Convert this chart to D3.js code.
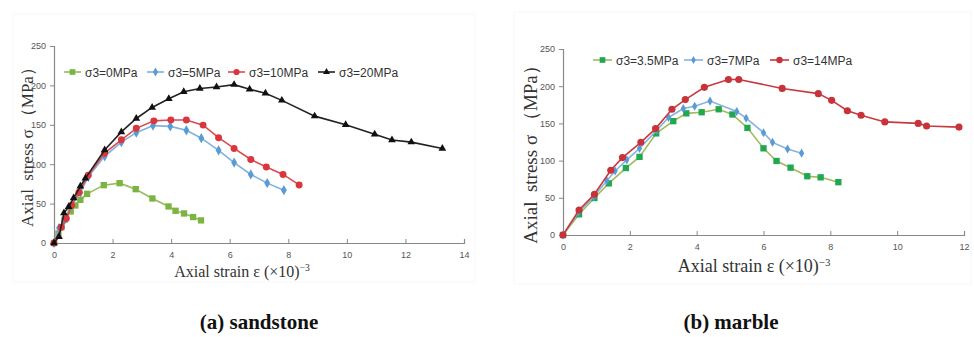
<!DOCTYPE html>
<html>
<head>
<meta charset="utf-8">
<script src="https://cdn.jsdelivr.net/npm/d3@7"></script>
<style>
  body { margin: 0; background: #fff; }
  svg { display: block; }
  .tick text { font-family: "Liberation Sans", Arial, sans-serif; fill: #555; }
  .legend text { font-family: "Liberation Sans", Arial, sans-serif; fill: #333; }
  .title { font-family: "Liberation Serif", "Times New Roman", serif; fill: #333; }
  .caption { font-family: "Liberation Serif", "Times New Roman", serif; font-weight: bold; fill: #111; }
</style>
</head>
<body>
<svg id="chart" width="974" height="337"></svg>
<script>
// sandstone, strain (x10^-3) / stress (MPa)
const sandX0 = [0, 0.15, 0.25, 0.36, 0.57, 0.73, 0.9, 1.13, 1.7, 2.24, 2.79, 3.36, 3.91, 4.15, 4.44, 4.75, 5.02];
const sandY0 = [0, 12, 20, 29.5, 40, 47.6, 54.8, 62.4, 73.4, 75.9, 68.3, 56.5, 46.4, 40.9, 37.5, 32.9, 28.7];

const sandX5 = [0, 0.17, 0.36, 0.59, 0.9, 1.17, 1.73, 2.3, 2.81, 3.38, 3.97, 4.52, 5.03, 5.62, 6.15, 6.72, 7.28, 7.85];
const sandY5 = [0, 19, 29, 47, 64, 84, 110, 128, 140, 149, 148, 143, 133, 117.6, 102, 87, 76, 67];

const sandX10 = [0, 0.25, 0.42, 0.6, 0.85, 1.17, 1.73, 2.3, 2.81, 3.41, 3.99, 4.52, 5.09, 5.62, 6.15, 6.72, 7.25, 7.82, 8.37];
const sandY10 = [0, 20, 31, 48, 64, 86, 114, 131, 145.5, 155, 156, 156, 149.6, 133.6, 120, 106, 96.5, 87, 73.7];

const sandX20 = [0, 0.17, 0.34, 0.5, 0.67, 0.9, 1.07, 1.73, 2.3, 2.81, 3.35, 3.92, 4.43, 4.98, 5.55, 6.15, 6.68, 7.22, 7.78, 8.9, 9.96, 10.95, 11.54, 12.2, 13.26];
const sandY20 = [0, 8, 38, 46, 57, 72, 82, 118, 141, 158, 172, 183, 192, 196, 198, 201, 195, 190, 181, 161, 150, 138, 130.6, 128, 120];

// marble
const marbX35 = [0, 0.48, 0.94, 1.37, 1.88, 2.29, 2.79, 3.3, 3.69, 4.15, 4.66, 5.07, 5.52, 6.0, 6.39, 6.81, 7.31, 7.71, 8.24];
const marbY35 = [0, 27.8, 49.7, 69.4, 90, 105, 136.6, 153, 163.5, 165, 169, 162, 144, 116.5, 99.5, 90.5, 79, 77.5, 71];

const marbX7 = [0, 0.47, 0.92, 1.31, 1.56, 1.91, 2.29, 2.81, 3.16, 3.6, 3.94, 4.4, 5.2, 5.48, 6.0, 6.27, 6.72, 7.14];
const marbY7 = [0, 31, 51.5, 73, 86, 101, 116.5, 141, 158, 170, 173, 180, 166, 157, 137.5, 124.5, 115.6, 110];

const marbX14 = [0, 0.48, 0.94, 1.43, 1.78, 2.33, 2.77, 3.26, 3.66, 4.23, 4.95, 5.26, 6.56, 7.64, 8.04, 8.51, 8.92, 9.63, 10.63, 10.88, 11.85];
const marbY14 = [0, 33.6, 54.7, 87, 104, 124.6, 143, 169, 182, 198.5, 209, 209, 197, 190, 181, 167, 161, 152, 150, 146.5, 145];

const sandNames = ["σ3=0MPa", "σ3=5MPa", "σ3=10MPa", "σ3=20MPa"];
const marbNames = ["σ3=3.5MPa", "σ3=7MPa", "σ3=14MPa"];
const sandTicksX = [0, 2, 4, 6, 8, 10, 12, 14];
const marbTicksX = [0, 2, 4, 6, 8, 10, 12];
const ticksY = [0, 50, 100, 150, 200, 250];

const zip = (xs, ys) => xs.map((x, i) => [x, ys[i]]);

const svg = d3.select("#chart");

// faint panel edges from the scanned figure
svg.append("rect").attr("x", 13).attr("y", 14).attr("width", 462).attr("height", 268)
  .attr("fill", "none").attr("stroke", "#f7f7f7");
svg.append("rect").attr("x", 514).attr("y", 12).attr("width", 457).attr("height", 272)
  .attr("fill", "none").attr("stroke", "#f7f7f7");

function drawPanel(opt) {
  const x = d3.scaleLinear().domain([0, opt.xMax]).range([opt.left, opt.right]);
  const y = d3.scaleLinear().domain([0, 250]).range([opt.bottom, opt.top]);
  const g = svg.append("g");

  const xAxis = g.append("g")
    .attr("transform", `translate(0,${opt.bottom})`)
    .call(d3.axisBottom(x).tickValues(opt.ticksX).tickSize(-4).tickPadding(9));
  const yAxis = g.append("g")
    .attr("transform", `translate(${opt.left},0)`)
    .call(d3.axisLeft(y).tickValues(ticksY).tickSize(4).tickPadding(4));
  [xAxis, yAxis].forEach((a) => {
    a.select(".domain").attr("stroke", "#888").attr("stroke-width", 1.2);
    a.selectAll(".tick line").attr("stroke", "#888");
    a.selectAll(".tick text").style("font-size", "9px");
  });

  const line = d3.line().x((d) => x(d[0])).y((d) => y(d[1]));

  opt.series.forEach((s) => {
    const pts = zip(s.xs, s.ys);
    g.append("path")
      .datum(pts)
      .attr("d", line)
      .attr("fill", "none")
      .attr("stroke", s.line)
      .attr("stroke-width", 1.6);
    g.selectAll(null)
      .data(pts)
      .enter()
      .append("path")
      .attr("transform", (d) => `translate(${x(d[0])},${y(d[1])})`)
      .attr("d", d3.symbol().type(s.shape).size(s.size))
      .attr("fill", s.mark);
  });

  // legend
  const leg = g.append("g").attr("class", "legend");
  opt.series.forEach((s, i) => {
    const lx = opt.legendX[i];
    leg.append("line")
      .attr("x1", lx).attr("x2", lx + opt.legLine)
      .attr("y1", opt.legendY).attr("y2", opt.legendY)
      .attr("stroke", s.line).attr("stroke-width", 1.6);
    leg.append("path")
      .attr("transform", `translate(${lx + opt.legLine / 2},${opt.legendY})`)
      .attr("d", d3.symbol().type(s.shape).size(s.size * 0.8))
      .attr("fill", s.mark);
    leg.append("text")
      .attr("x", lx + opt.legLine + 4)
      .attr("y", opt.legendY + 4.5)
      .style("font-size", "12px")
      .text(s.name);
  });

  // axis titles
  g.append("text")
    .attr("class", "title")
    .attr("x", opt.xTitle[0]).attr("y", opt.xTitle[1])
    .attr("text-anchor", "middle")
    .style("font-size", opt.titleSize + "px")
    .html(`Axial strain ε (×10)<tspan dy="-6" font-size="${opt.titleSize * 0.6}px">−3</tspan>`);
  g.append("text")
    .attr("class", "title")
    .attr("transform", `translate(${opt.yTitle[0]},${opt.yTitle[1]}) rotate(-90)`)
    .attr("text-anchor", "middle")
    .style("font-size", opt.yTitleSize + "px")
    .attr("xml:space", "preserve")
    .text("Axial  stress σ （MPa）");

  svg.append("text")
    .attr("class", "caption")
    .attr("x", opt.caption[0]).attr("y", opt.caption[1])
    .attr("text-anchor", "middle")
    .style("font-size", "21px")
    .text(opt.captionText);
}

drawPanel({
  xMax: 14, left: 54, right: 464, top: 46, bottom: 243,
  ticksX: sandTicksX,
  legendX: [64, 147, 228, 318], legendY: 72, legLine: 17,
  xTitle: [242, 277], titleSize: 16,
  yTitle: [33, 143], yTitleSize: 17,
  caption: [259, 329], captionText: "(a) sandstone",
  series: [
    { name: sandNames[0], xs: sandX0, ys: sandY0, line: "#93bf5a", mark: "#7cb342", shape: d3.symbolSquare, size: 40 },
    { name: sandNames[1], xs: sandX5, ys: sandY5, line: "#7fb2de", mark: "#5b9bd5", shape: d3.symbolDiamond, size: 30 },
    { name: sandNames[2], xs: sandX10, ys: sandY10, line: "#dc4a50", mark: "#d9363e", shape: d3.symbolCircle, size: 38 },
    { name: sandNames[3], xs: sandX20, ys: sandY20, line: "#222", mark: "#111", shape: d3.symbolTriangle, size: 26 },
  ],
});

drawPanel({
  xMax: 12, left: 563, right: 964, top: 49, bottom: 235,
  ticksX: marbTicksX,
  legendX: [593, 684, 770], legendY: 60, legLine: 19,
  xTitle: [754, 272], titleSize: 18,
  yTitle: [537, 150], yTitleSize: 19,
  caption: [731, 329], captionText: "(b) marble",
  series: [
    { name: marbNames[0], xs: marbX35, ys: marbY35, line: "#a3bb5a", mark: "#1fa84f", shape: d3.symbolSquare, size: 40 },
    { name: marbNames[1], xs: marbX7, ys: marbY7, line: "#86b4dc", mark: "#5b9bd5", shape: d3.symbolDiamond, size: 24 },
    { name: marbNames[2], xs: marbX14, ys: marbY14, line: "#c9393f", mark: "#c8323a", shape: d3.symbolCircle, size: 40 },
  ],
});
</script>
</body>
</html>
